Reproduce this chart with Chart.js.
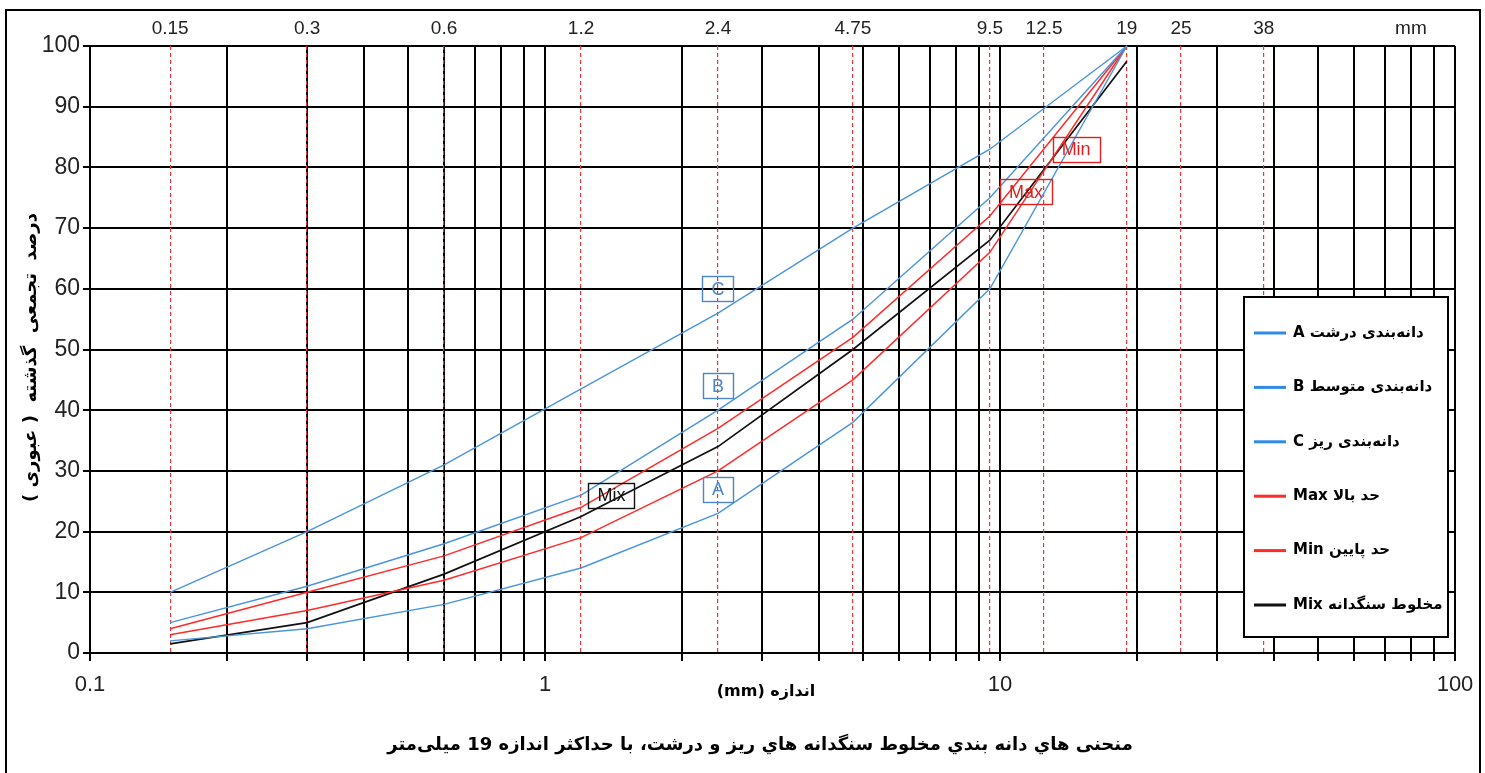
<!DOCTYPE html>
<html>
<head>
<meta charset="utf-8">
<script src="https://cdn.jsdelivr.net/npm/chart.js@4/dist/chart.umd.min.js"></script>
<style>
  html, body { margin: 0; padding: 0; background: #fff; overflow: hidden; }
  #wrap { width: 1485px; height: 773px; position: relative; }
</style>
</head>
<body>
<div id="wrap"><canvas id="grading" width="1485" height="773"></canvas></div>
<script>
// Sieve openings (mm) where the grading curves are defined
const sieveSizes = [0.15, 0.3, 0.6, 1.2, 2.4, 4.75, 9.5, 19];

// Cumulative percent passing at each sieve
const gradingA   = [2, 4, 8, 14, 23, 38, 60, 100];
const gradingB   = [5, 11, 18, 26, 40, 55, 75, 100];
const gradingC   = [10, 20, 31, 43.5, 56, 70, 83, 100];
const limitMax   = [4, 10, 16, 24, 37, 52, 72, 100];
const limitMin   = [3, 7, 12, 19, 30, 45, 66, 100];
const mixPassing = [1.5, 5, 13, 22.5, 34, 50, 68, 97.5];

// Series names shown in the key
const seriesNames = [
  'دانه‌بندی درشت A',
  'دانه‌بندی متوسط B',
  'دانه‌بندی ریز C',
  'حد بالا Max',
  'حد پایین Min',
  'مخلوط سنگدانه Mix'
];

// Reference sieve lines and the labels along the top edge
const sieveMarks = [0.15, 0.3, 0.6, 1.2, 2.4, 4.75, 9.5, 12.5, 19, 25, 38];
const unitLabel = 'mm';
const unitLabelAt = 80;

// Labelled values on the bottom (log) axis
const bottomLabels = [0.1, 1, 10, 100];

// Curve tags: text and the (size, % passing) point they sit on
const tagText  = ['C', 'B', 'A', 'Mix', 'Max', 'Min'];
const tagSize  = [2.4, 2.4, 2.4, 1.4, 11.4, 14.7];
const tagValue = [60, 44, 27, 26, 76, 83];

// Texts
const xTitle = 'اندازه (mm)';
const yTitle = 'درصد  تجمعی  گذشته  ( عبوری )';
const caption = 'منحنی هاي دانه بندي مخلوط سنگدانه هاي ريز و درشت، با حداکثر اندازه 19 میلی‌متر';

const BLUE = '#4a94dc';
const RED = '#ff2a2a';
const BLACK = '#111111';
const seriesColors = [BLUE, BLUE, BLUE, RED, RED, BLACK];
const seriesWidths = [1.4, 1.4, 1.4, 1.5, 1.5, 1.7];
const tagColors = ['#4a86c8', '#4a86c8', '#4a86c8', '#111111', '#e02020', '#e02020'];

const NUM_FONT = '"Liberation Sans Narrow", "Arial Narrow", "Liberation Sans", sans-serif';
const FA_FONT = '"DejaVu Sans", "Noto Sans", sans-serif';

function toPoints(values) {
  return sieveSizes.map((s, i) => ({ x: s, y: values[i] }));
}

// Every 1-2-...-9 step of each decade from 0.1 to 100
function decadeSteps() {
  const out = [];
  [0.1, 1, 10].forEach(d => {
    for (let k = 1; k <= 9; k++) out.push(parseFloat((k * d).toPrecision(6)));
  });
  out.push(100);
  return out;
}

const seriesValues = [gradingA, gradingB, gradingC, limitMax, limitMin, mixPassing];

const datasets = seriesValues.map((vals, i) => ({
  label: seriesNames[i],
  data: toPoints(vals),
  borderColor: seriesColors[i],
  backgroundColor: seriesColors[i],
  borderWidth: seriesWidths[i],
  pointRadius: 0,
  tension: 0,
  fill: false,
  clip: false
}));

const decorPlugin = {
  id: 'decor',
  beforeDraw(chart) {
    const ctx = chart.ctx;
    ctx.save();
    ctx.fillStyle = '#ffffff';
    ctx.fillRect(0, 0, chart.width, chart.height);
    ctx.restore();
  },
  afterDraw(chart) {
    const ctx = chart.ctx;
    const xs = chart.scales.x, ys = chart.scales.y;
    const area = chart.chartArea;

    // curve tags
    ctx.save();
    ctx.font = '18px ' + NUM_FONT;
    ctx.textAlign = 'center';
    ctx.textBaseline = 'middle';
    ctx.lineWidth = 1.4;
    tagText.forEach((t, i) => {
      const px = xs.getPixelForValue(tagSize[i]);
      const py = ys.getPixelForValue(tagValue[i]);
      const w = ctx.measureText(t).width + 18;
      const h = 25;
      ctx.strokeStyle = tagColors[i];
      ctx.fillStyle = tagColors[i];
      ctx.strokeRect(Math.round(px - w / 2) + 0.5, Math.round(py - h / 2) + 0.5, Math.round(w), h);
      ctx.fillText(t, px, py + 1);
    });
    ctx.restore();

    // key box
    ctx.save();
    const kx = 1244, ky = 297, kw = 204, kh = 340;
    ctx.fillStyle = '#ffffff';
    ctx.fillRect(kx, ky, kw, kh);
    ctx.strokeStyle = '#000';
    ctx.lineWidth = 2;
    ctx.strokeRect(kx, ky, kw, kh);
    ctx.font = 'bold 15px ' + FA_FONT;
    ctx.textBaseline = 'middle';
    ctx.direction = 'rtl';
    ctx.textAlign = 'left';
    chart.data.datasets.forEach((ds, i) => {
      const cy = 333 + i * 54.4;
      ctx.strokeStyle = ds.borderColor === BLUE ? '#2f8be6' : ds.borderColor;
      ctx.lineWidth = 3;
      ctx.beginPath();
      ctx.moveTo(1254, cy);
      ctx.lineTo(1286, cy);
      ctx.stroke();
      ctx.fillStyle = '#000';
      ctx.fillText(ds.label, 1293, cy);
    });
    ctx.restore();

    // axis titles and caption
    ctx.save();
    ctx.fillStyle = '#000';
    ctx.direction = 'rtl';
    ctx.textAlign = 'center';
    ctx.textBaseline = 'middle';
    ctx.font = 'bold 16px ' + FA_FONT;
    ctx.fillText(xTitle, 766, 692);
    ctx.font = 'bold 18px ' + FA_FONT;
    ctx.fillText(caption, 760, 745);
    ctx.translate(31, (area.top + area.bottom) / 2 + 8);
    ctx.rotate(-Math.PI / 2);
    ctx.font = 'bold 18px ' + FA_FONT;
    ctx.fillText(yTitle, 0, 0);
    ctx.restore();

    // outer frame
    ctx.save();
    ctx.strokeStyle = '#000';
    ctx.lineWidth = 2;
    ctx.strokeRect(6, 10, 1474, 775);
    ctx.restore();
  }
};

new Chart(document.getElementById('grading'), {
  type: 'line',
  data: { datasets },
  options: {
    responsive: false,
    animation: false,
    devicePixelRatio: 1,
    layout: { padding: { left: 0, right: 30, top: 0, bottom: 0 } },
    plugins: { legend: { display: false }, tooltip: { enabled: false } },
    scales: {
      x: {
        type: 'logarithmic',
        position: 'bottom',
        min: 0.1,
        max: 100,
        afterBuildTicks: s => { s.ticks = decadeSteps().map(v => ({ value: v })); },
        afterFit: s => { s.height = 120; },
        ticks: {
          autoSkip: false,
          maxRotation: 0,
          padding: 11,
          color: '#222',
          font: { family: NUM_FONT, size: 22 },
          callback: v => bottomLabels.includes(v) ? String(v) : ''
        },
        grid: { color: '#000', lineWidth: 2, tickLength: 8, tickColor: '#000' },
        border: { display: true, color: '#000', width: 2 }
      },
      y: {
        type: 'linear',
        position: 'left',
        min: 0,
        max: 100,
        afterFit: s => { s.width = 90; },
        ticks: {
          stepSize: 10,
          padding: 3,
          color: '#222',
          font: { family: NUM_FONT, size: 23 }
        },
        grid: { color: '#000', lineWidth: 2, tickLength: 7, tickColor: '#000' },
        border: { display: true, color: '#000', width: 2 }
      },
      x2: {
        axis: 'x',
        type: 'logarithmic',
        position: 'top',
        min: 0.1,
        max: 100,
        afterBuildTicks: s => {
          s.ticks = sieveMarks.concat([unitLabelAt]).map(v => ({ value: v }));
        },
        afterFit: s => { s.height = 46; },
        ticks: {
          autoSkip: false,
          maxRotation: 0,
          padding: 6,
          color: '#222',
          font: { family: NUM_FONT, size: 19 },
          callback: v => v === unitLabelAt ? unitLabel : String(v)
        },
        grid: {
          drawTicks: false,
          lineWidth: 1.2,
          color: c => (c.tick && c.tick.value === unitLabelAt) ? 'rgba(0,0,0,0)' : '#e8383c'
        },
        border: { display: false, dash: [4, 3] }
      }
    }
  },
  plugins: [decorPlugin]
});
</script>
</body>
</html>
